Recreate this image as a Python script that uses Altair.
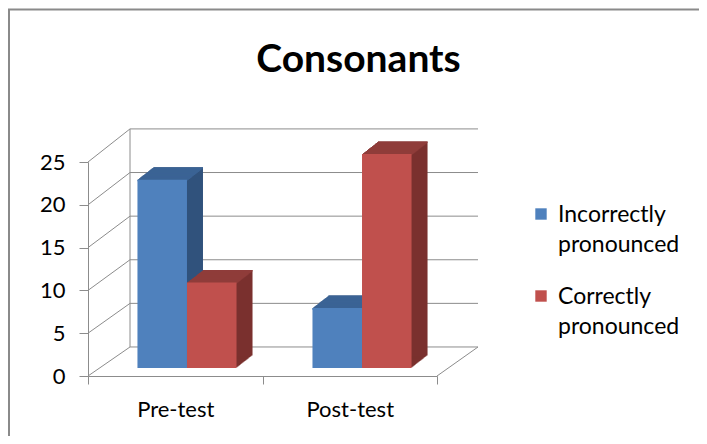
import altair as alt
import pandas as pd

# ---- data ----
title_text = "Consonants"
categories = ["Pre-test", "Post-test"]
series = ["Incorrectly pronounced", "Correctly pronounced"]
incorrect = [22, 7]
correct = [10, 25]
y_ticks = [0, 5, 10, 15, 20, 25]

# ---- styles ----
front_colors = ["#4F81BD", "#C0504D"]
top_colors = ["#3B6395", "#8F3C3A"]
side_colors = ["#30527C", "#7A302E"]
grid_color = "#8C8C8C"
FONT = "Lato"

rows = []
for i, c in enumerate(categories):
    rows.append({"category": c, "series": series[0], "value": incorrect[i]})
    rows.append({"category": c, "series": series[1], "value": correct[i]})
df = pd.DataFrame(rows)
grid_df = pd.DataFrame({"v": y_ticks})
legend_df = pd.DataFrame({"series": series})

W, H = 390, 247          # plot area (front axis + back wall)
FRONT_W = 349            # length of the front floor edge
DEPTH_X = 42             # horizontal depth of the back wall
BX, BY = 12, -8          # bars sit half way into the depth
STEPS, DY = 16, 0.78     # extrusion of the bar boxes


def bar_scale(shift):
    return alt.Scale(domain=categories, range=[shift, FRONT_W + shift],
                     paddingInner=0.434, paddingOuter=0.214)


axis_scale = alt.Scale(domain=categories, range=[0, FRONT_W], paddingInner=0, paddingOuter=0)
y_scale = alt.Scale(domain=[0, 25], range=[H, 33], nice=False, zero=True)
off_scale = alt.Scale(domain=series, paddingInner=0, paddingOuter=0)

x_axis = alt.Axis(title=None, labelFontSize=22, labelFont=FONT, labelColor="#000000",
                  labelPadding=15, tickSize=8, tickBand="extent",
                  domainColor=grid_color, tickColor=grid_color, labelAngle=0)
y_axis = alt.Axis(title=None, values=y_ticks, labelFontSize=22, labelFont=FONT,
                  labelColor="#000000", labelPadding=14, tickSize=9, grid=False,
                  domainColor=grid_color, tickColor=grid_color)

XO = alt.XOffset("series:N", scale=off_scale, sort=series)


def Y(field):
    return alt.Y(field, type="quantitative", scale=y_scale, axis=y_axis)


def X(shift):
    return alt.X("category:N", scale=bar_scale(shift), sort=categories, axis=None)


grid = alt.Chart(grid_df).transform_calculate(back="3.39 + 1.019 * datum.v")

back_lines = grid.mark_rule(color=grid_color, strokeWidth=1).encode(
    x=alt.value(DEPTH_X), x2=alt.value(W), y=Y("back"))
diag_lines = grid.mark_rule(color=grid_color, strokeWidth=1).encode(
    x=alt.value(0), x2=alt.value(DEPTH_X), y=Y("v"), y2="back:Q")
back_vert = grid.mark_rule(color=grid_color, strokeWidth=1).encode(
    x=alt.value(DEPTH_X), y=alt.Y("min(back):Q", scale=y_scale, axis=y_axis),
    y2="max(back):Q")
floor_right = grid.transform_filter("datum.v == 0").mark_rule(
    color=grid_color, strokeWidth=1).encode(
    x=alt.value(FRONT_W), x2=alt.value(W), y=Y("v"), y2="back:Q")

axis_layer = alt.Chart(df).mark_point(opacity=0).encode(
    x=alt.X("category:N", scale=axis_scale, sort=categories, axis=x_axis),
    y=Y("value"))

layers = [back_lines, diag_lines, back_vert, floor_right, axis_layer]

base = alt.Chart(df)

for i in range(1, STEPS + 1):
    layers.append(base.mark_bar(yOffset=BY - DY * i, y2Offset=BY - DY * i).encode(
        x=X(BX + i), xOffset=XO, y=Y("value"),
        color=alt.Color("series:N", scale=alt.Scale(domain=series, range=side_colors), legend=None)))

for i in range(0, STEPS + 1):
    layers.append(base.mark_bar(yOffset=BY - DY * i, y2Offset=BY - DY * i + 1.6).encode(
        x=X(BX + i), xOffset=XO, y=Y("value"), y2="value:Q",
        color=alt.Color("series:N", scale=alt.Scale(domain=series, range=top_colors), legend=None)))

front = base.mark_bar(yOffset=BY, y2Offset=BY).encode(
    x=X(BX), xOffset=XO, y=Y("value"),
    color=alt.Color("series:N", scale=alt.Scale(domain=series, range=front_colors), legend=None))
layers.append(front)

# legend (square + two-line label per series)
LEG_X, LEG_Y, LEG_STEP = 453, 85, 82
for k, s in enumerate(series):
    leg = alt.Chart(legend_df).transform_filter(alt.datum.series == s)
    layers.append(leg.mark_square(size=130, opacity=1).encode(
        x=alt.value(LEG_X), y=alt.value(LEG_Y + k * LEG_STEP),
        color=alt.Color("series:N", scale=alt.Scale(domain=series, range=front_colors), legend=None)))
    layers.append(leg.mark_text(font=FONT, fontSize=23, color="#000000", align="left",
                                baseline="middle", lineBreak=" ", lineHeight=30).encode(
        x=alt.value(LEG_X + 17), y=alt.value(LEG_Y + 1 + k * LEG_STEP), text="series:N"))

one = alt.Chart(grid_df).transform_filter("datum.v == 0")
border = one.mark_rect(fill=None, stroke="#8A8A8A", strokeWidth=2).encode(
    x=alt.value(-79), x2=alt.value(700), y=alt.value(-119.5), y2=alt.value(400))
title = one.mark_text(text=title_text, font=FONT, fontSize=39, fontWeight="bold",
                      color="#000000", align="center", baseline="alphabetic").encode(
    x=alt.value(270.5), y=alt.value(-57))
layers += [border, title]

chart = alt.layer(*layers).resolve_scale(color="independent", x="independent").properties(
    width=W, height=H,
    autosize=alt.AutoSizeParams(type="none"),
    padding={"left": 80, "top": 121, "right": 221, "bottom": 60},
).configure_view(stroke=None)

chart.save("out.html", embed_options={"renderer": "svg", "actions": False})
